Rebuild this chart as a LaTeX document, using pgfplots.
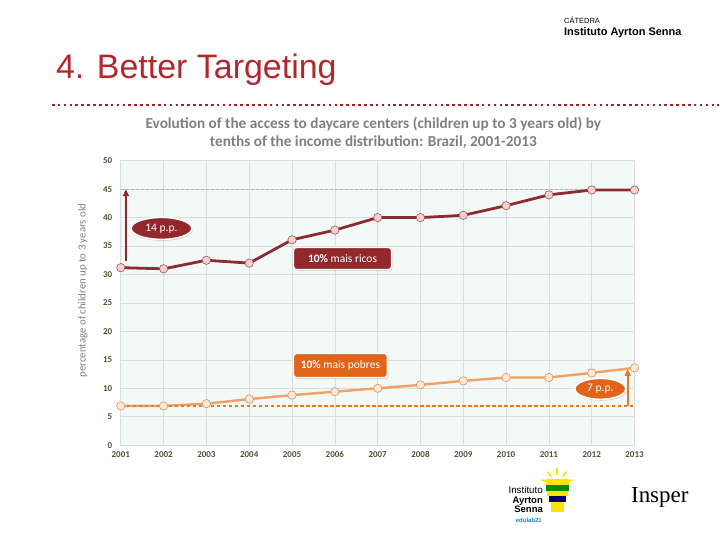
\documentclass[border=0pt]{standalone}
\usepackage{pgfplots}
\pgfplotsset{compat=1.18}
\usepackage{fontspec}
\setmainfont{Carlito}
\newfontfamily\arial{Liberation Sans}
\newfontfamily\serifrm{Liberation Serif}
\usetikzlibrary{arrows.meta,shadows,shapes.geometric}

\definecolor{richline}{HTML}{8B2C30}
\definecolor{richfill}{HTML}{F6CFCF}
\definecolor{richbox}{HTML}{93282C}
\definecolor{poorline}{HTML}{F4A062}
\definecolor{poorfill}{HTML}{FDE9DC}
\definecolor{poorbox}{HTML}{E0641A}
\definecolor{poordash}{HTML}{E07B2A}
\definecolor{titlered}{HTML}{B0282D}
\definecolor{subgray}{HTML}{7F7F7F}
\definecolor{tickcol}{HTML}{4B5230}
\definecolor{gridcol}{HTML}{D9DEDB}
\definecolor{plotbg}{HTML}{F3F9F6}

\begin{document}
\begin{tikzpicture}[x=1pt,y=1pt]
\path (0,0) rectangle (720,540);

% header
\node[anchor=base west,inner sep=0,font=\arial\fontsize{7.5}{8}\selectfont] at (565,516) {CÁTEDRA};
\node[anchor=base west,inner sep=0,font=\arial\bfseries\fontsize{11}{12}\selectfont] at (565,504) {Instituto Ayrton Senna};
\node[anchor=base west,inner sep=0,text=titlered,font=\arial\fontsize{34}{36}\selectfont] at (56,461) {4. Better Targeting};
\draw[titlered!90!black,line width=2.6pt,dash pattern=on 2.6pt off 3.3pt] (52,435) -- (720,435);

% subtitle
\node[align=center,text=subgray,font=\bfseries\fontsize{15.3}{18}\selectfont] at (374,407)
  {Evolution of the access to daycare centers (children up to 3 years old) by\\tenths of the income distribution: Brazil, 2001-2013};

% y label
\node[rotate=90,text=subgray,font=\fontsize{10.8}{11}\selectfont] at (83,249) {percentage of children up to 3 years old};

\begin{axis}[
  at={(121pt,94pt)}, anchor=south west,
  scale only axis, width=514.7pt, height=285pt,
  xmin=2001, xmax=2013, ymin=0, ymax=50,
  xtick={2001,2002,...,2013},
  xticklabels={2001,2002,2003,2004,2005,2006,2007,2008,2009,2010,2011,2012,2013},
  ytick={0,5,...,50},
  yticklabels={0,5,10,15,20,25,30,35,40,45,50},
  major tick length=0pt,
  grid=major,
  major grid style={gridcol,line width=0.6pt},
  axis line style={gridcol,line width=0.6pt},
  axis background/.style={fill=plotbg},
  ticklabel style={text=tickcol,font=\bfseries\fontsize{9}{9}\selectfont},
  yticklabel style={xshift=-5pt},
  xticklabel style={yshift=-3pt},
  clip=false,
]
% reference lines
\addplot[gray!60,line width=1pt,dash pattern=on 3pt off 2pt] coordinates {(2001,45) (2013,45)};

% 10% richest
\addplot[richline,line width=2.8pt,mark=*,mark size=4.2pt,
  mark options={fill=richfill,draw=richline!80,line width=0.6pt}] coordinates {
  (2001,31.2) (2002,31.0) (2003,32.5) (2004,32.0) (2005,36.1) (2006,37.8) (2007,40.0)
  (2008,40.0) (2009,40.4) (2010,42.1) (2011,44.0) (2012,44.85) (2013,44.85)};

% 10% poorest
\addplot[poorline,line width=2.4pt,mark=*,mark size=4.2pt,
  mark options={fill=poorfill,draw=poorline!90!black,line width=0.6pt}] coordinates {
  (2001,6.9) (2002,6.9) (2003,7.3) (2004,8.1) (2005,8.8) (2006,9.4) (2007,10.0)
  (2008,10.6) (2009,11.3) (2010,11.9) (2011,11.9) (2012,12.7) (2013,13.6)};

\addplot[poordash,line width=1.6pt,dash pattern=on 3.5pt off 2.5pt] coordinates {(2001,6.9) (2013,6.9)};

% annotations
\draw[richline,line width=1.8pt,-{Triangle[width=6pt,length=7pt]}] (axis cs:2001.12,32.3) -- (axis cs:2001.12,45);
\draw[poordash,line width=1.8pt,-{Triangle[width=6pt,length=7pt]}] (axis cs:2012.84,6.9) -- (axis cs:2012.84,13.4);

\node[ellipse,fill=richbox,draw=white,line width=1.5pt,minimum width=61pt,minimum height=22pt,inner sep=1pt,
  drop shadow={opacity=0.3,shadow xshift=1pt,shadow yshift=-1.5pt},
  text=white,font=\fontsize{11.5}{12}\selectfont] at (axis cs:2001.95,38.1) {14 p.p.};
\node[rectangle,rounded corners=3pt,fill=richbox,draw=white,line width=1.2pt,minimum width=98pt,minimum height=22pt,
  drop shadow={opacity=0.3,shadow xshift=1pt,shadow yshift=-1.5pt},
  text=white,font=\fontsize{11.5}{12}\selectfont] at (axis cs:2006.18,32.8) {\textbf{10\%} mais ricos};
\node[rectangle,rounded corners=3pt,fill=poorbox,draw=white,line width=1.2pt,minimum width=94pt,minimum height=24pt,
  drop shadow={opacity=0.3,shadow xshift=1pt,shadow yshift=-1.5pt},
  text=white,font=\fontsize{11.5}{12}\selectfont] at (axis cs:2006.13,14.0) {\textbf{10\%} mais pobres};
\node[ellipse,fill=poorbox,draw=white,line width=1.5pt,minimum width=51pt,minimum height=21pt,inner sep=1pt,
  drop shadow={opacity=0.3,shadow xshift=1pt,shadow yshift=-1.5pt},
  text=white,font=\fontsize{11.5}{12}\selectfont] at (axis cs:2012.2,9.9) {7 p.p.};
\end{axis}

% logos
\node[anchor=base east,inner sep=0,font=\arial\fontsize{9.8}{10}\selectfont] at (544,46) {Instituto};
\node[anchor=base east,inner sep=0,font=\arial\bfseries\fontsize{9.5}{10}\selectfont] at (544,36) {Ayrton};
\node[anchor=base east,inner sep=0,font=\arial\bfseries\fontsize{9.5}{10}\selectfont] at (544,26.5) {Senna};
\node[anchor=base east,inner sep=0,text=cyan!70!blue,font=\arial\bfseries\fontsize{6}{6}\selectfont] at (543,17) {edulab21};
\begin{scope}[line cap=round]
  \draw[yellow!85!orange,line width=1.8pt] (558,71) -- (558,65) (549,67) -- (552,63) (567,67) -- (564,63) (543,59) -- (547,58) (573,59) -- (569,58);
  \fill[yellow!85!orange] (547,54) rectangle (570,60);
  \fill[green!55!black] (547,48) rectangle (570,54);
  \fill[yellow!85!orange] (548,43) rectangle (569,48);
  \fill[blue!40!black] (550,37) rectangle (567,43);
  \fill[yellow!85!orange] (552,27) rectangle (565,37);
\end{scope}
\node[anchor=base,inner sep=0,font=\serifrm\fontsize{23}{24}\selectfont] at (661,37) {Insper};
\end{tikzpicture}
\end{document}
